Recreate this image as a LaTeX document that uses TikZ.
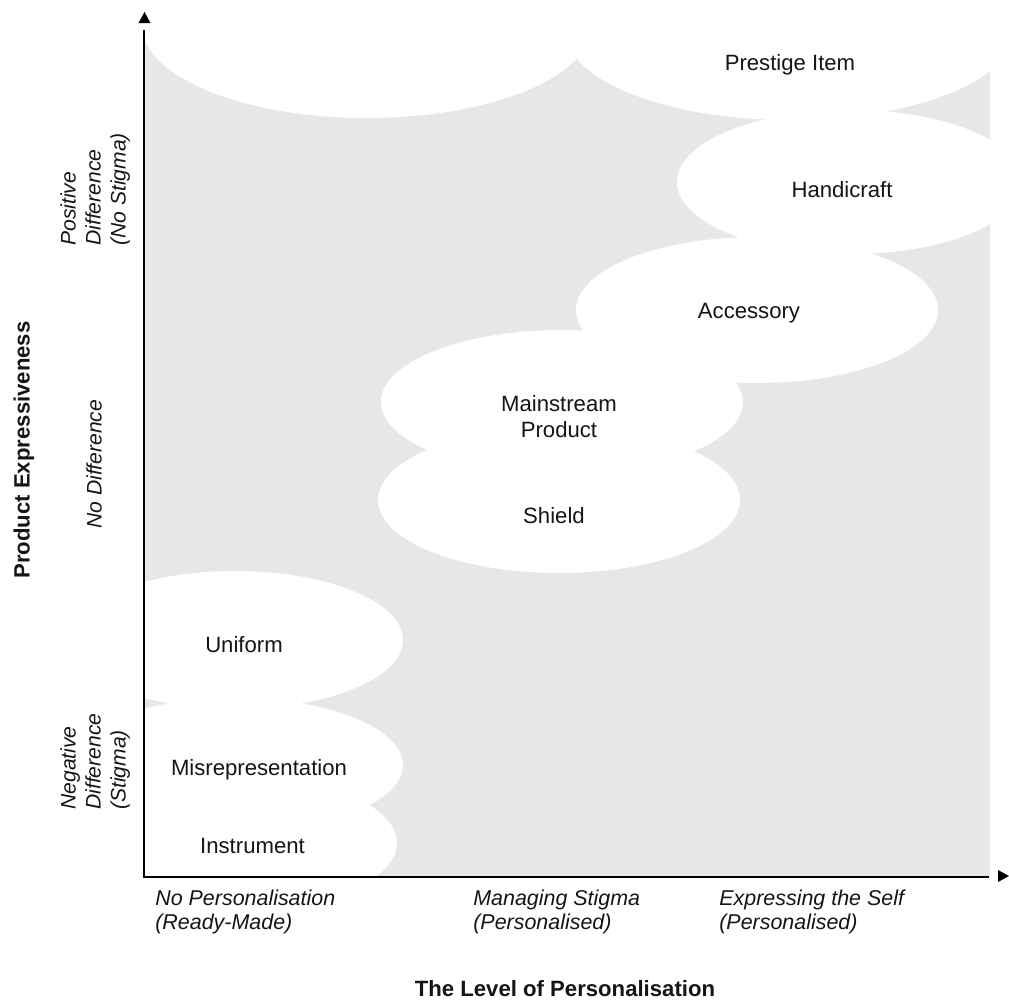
\documentclass[tikz,border=0pt]{standalone}
\usepackage{fontspec}
\setmainfont{Liberation Sans}
\usepackage{tikz}
\usetikzlibrary{positioning}

\definecolor{colorFond}{HTML}{E7E7E7}
\definecolor{colorTexte}{HTML}{151515}
\def\colorFond{colorFond}
\def\colorTexte{colorTexte}

\begin{document}
\begin{tikzpicture}[x=0.02cm, y=-0.02cm,
    bulle/.style={fill=white, draw=none},
    etiquette/.style={inner sep=0pt, anchor=base, \colorTexte, align=center,
        font=\fontsize{12.6pt}{14.8pt}\selectfont},
    categorie/.style={inner sep=0pt, anchor=north west, \colorTexte, align=left,
        font=\fontsize{12.2pt}{13.7pt}\selectfont\itshape},
    lateral/.style={categorie, rotate=90,
        font=\fontsize{12pt}{14.2pt}\selectfont\itshape},
    titre/.style={inner sep=0pt, \colorTexte, font=\fontsize{12.6pt}{15pt}\selectfont\bfseries}]

    \useasboundingbox (0,0) rectangle (1009,1001);

    % Fond gris
    \fill[\colorFond] (145,30) rectangle (990,877);

    % Bulles blanches (coupees au fond)
    \begin{scope}
        \clip (145,30) rectangle (990,877);
        \fill[bulle] (367,25) ellipse [x radius=225, y radius=93];
        \fill[bulle] (790,30) ellipse [x radius=225, y radius=90];
        \fill[bulle] (850,182) ellipse [x radius=173, y radius=72];
        \fill[bulle] (757,310) ellipse [x radius=181, y radius=73];
        \fill[bulle] (562,402) ellipse [x radius=181, y radius=72];
        \fill[bulle] (559,500) ellipse [x radius=181, y radius=73];
        \fill[bulle] (235,640) ellipse [x radius=168, y radius=69];
        \fill[bulle] (235,765) ellipse [x radius=168, y radius=67];
        \fill[bulle] (225,843) ellipse [x radius=172, y radius=70];
    \end{scope}

    % Textes des bulles
    \node[etiquette] (prestige) at (790,70.5) {Prestige Item};
    \node[etiquette] (artisanat) at (842,197) {Handicraft};
    \node[etiquette] (accessoire) at (749,318) {Accessory};
    \node[etiquette, anchor=north] (courant) at (559,395) {Mainstream\\Product};
    \node[etiquette] (bouclier) at (554,523) {Shield};
    \node[etiquette] (uniforme) at (244,652) {Uniform};
    \node[etiquette] (deguisement) at (259,775) {Misrepresentation};
    \node[etiquette] (instrument) at (252.5,853) {Instrument};

    % Categories en bas
    \node[categorie] (pretPorter) at (155,890) {No Personalisation\\(Ready-Made)};
    \node[categorie] (stigmate) at (473,890) {Managing Stigma\\(Personalised)};
    \node[categorie] (soi) at (719,890) {Expressing the Self\\(Personalised)};

    % Categories a gauche
    \node[lateral] (positive) at (60,246) {Positive\\Difference\\(No Stigma)};
    \node[lateral] (neutre) at (86,529) {No Difference};
    \node[lateral] (negative) at (60,810) {Negative\\Difference\\(Stigma)};

    % Titres des axes
    \node[titre, rotate=90] (expressivite) at (24,450) {Product Expressiveness};
    \node[titre, anchor=base] (personnalisation) at (565,996) {The Level of Personalisation};

    % Axes
    \coordinate (origine) at (144,877);
    \coordinate (hautAxe) at (144,30);
    \coordinate (droiteAxe) at (989,877);
    \draw[line width=1pt, black] (hautAxe) -- (origine) -- (droiteAxe);
    \fill[black] (138.5,23) -- (150.5,23) -- (144.5,12) -- cycle;
    \fill[black] (998,870) -- (998,882) -- (1009,876) -- cycle;

\end{tikzpicture}
\end{document}
